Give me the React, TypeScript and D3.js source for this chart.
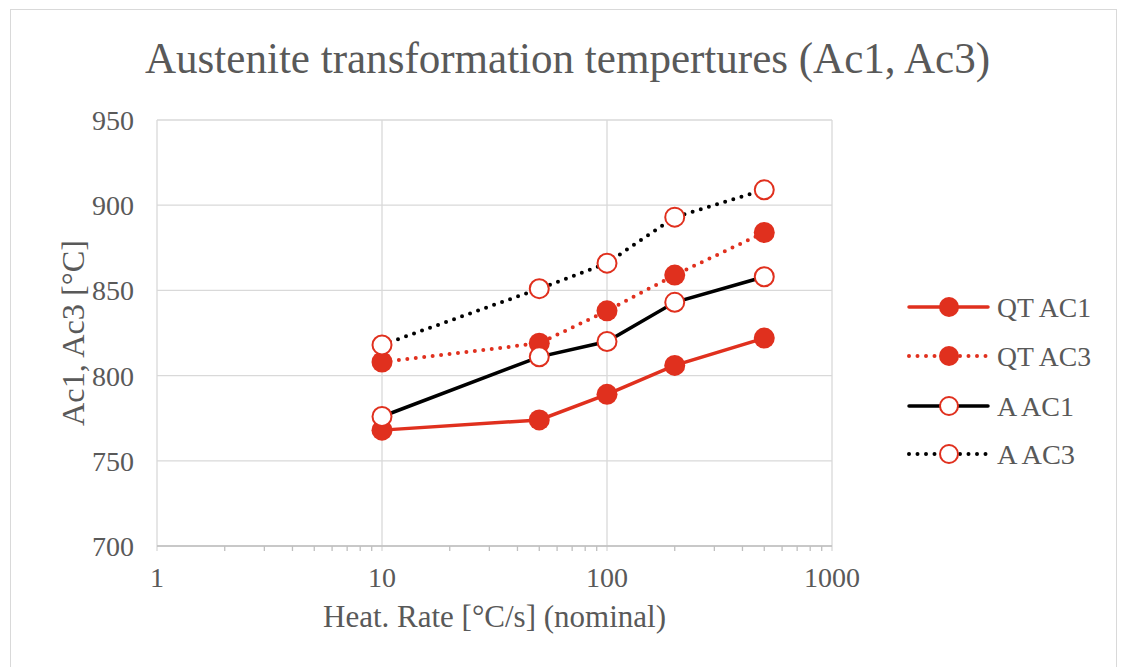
import React from "react";
import * as d3 from "d3";

const heatRates = [10, 50, 100, 200, 500];
const qtAc1 = [768, 774, 789, 806, 822];
const qtAc3 = [808, 819, 838, 859, 884];
const aAc1 = [776, 811, 820, 843, 858];
const aAc3 = [818, 851, 866, 893, 909];
const xTicks = [1, 10, 100, 1000];
const yTicks = [700, 750, 800, 850, 900, 950];
const seriesNames = ["QT AC1", "QT AC3", "A AC1", "A AC3"];

const RED = "#e0301e";
const series = [
  { name: seriesNames[0], values: qtAc1, color: RED, dotted: false, filled: true },
  { name: seriesNames[1], values: qtAc3, color: RED, dotted: true, filled: true },
  { name: seriesNames[2], values: aAc1, color: "#000000", dotted: false, filled: false },
  { name: seriesNames[3], values: aAc3, color: "#000000", dotted: true, filled: false },
];

export default function App() {
  const W = 1122, H = 667;
  const x = d3.scaleLog().domain([1, 1000]).range([157, 832]);
  const y = d3.scaleLinear().domain([700, 950]).range([546, 120]);
  const minor: number[] = [];
  for (const d of [1, 10, 100]) for (let k = 2; k <= 9; k++) minor.push(d * k);
  const line = d3.line<number>().x((_, i) => x(heatRates[i])).y((v) => y(v));
  const fs = { fontFamily: '"Liberation Serif", "DejaVu Serif", serif' };
  const txt = "#595959";
  const legendY = [307, 356, 406, 454];
  const legendLen = [94, 94, 77, 78];
  return (
    <svg width={W} height={H} style={{ position: "absolute", left: 0, top: 0, background: "#fff" }}>
      <rect x={10.5} y={9.5} width={1106} height={680} fill="#fff" stroke="#d9d9d9" strokeWidth={1} />
      <text x={145} y={73} textLength={845} lengthAdjust="spacingAndGlyphs" style={fs} fontSize={44} fill={txt}>
        Austenite transformation tempertures (Ac1, Ac3)
      </text>
      {yTicks.map((t) => (
        <g key={t}>
          <line x1={157} x2={832} y1={y(t)} y2={y(t)} stroke="#d9d9d9" strokeWidth={1.3} />
          <text x={134} y={y(t) + 10} textAnchor="end" style={fs} fontSize={28} fill={txt}>{t}</text>
        </g>
      ))}
      {xTicks.map((t) => (
        <g key={t}>
          <line x1={x(t)} x2={x(t)} y1={120} y2={551} stroke="#d9d9d9" strokeWidth={1.3} />
          <text x={x(t)} y={587} textAnchor="middle" style={fs} fontSize={28} fill={txt}>{t}</text>
        </g>
      ))}
      {minor.map((t) => (
        <line key={t} x1={x(t)} x2={x(t)} y1={546} y2={551} stroke="#bfbfbf" strokeWidth={1.3} />
      ))}
      <line x1={157} x2={832} y1={546} y2={546} stroke="#bfbfbf" strokeWidth={1.5} />
      <text x={323} y={627} textLength={343} lengthAdjust="spacingAndGlyphs" style={fs} fontSize={31} fill={txt}>
        Heat. Rate [°C/s] (nominal)
      </text>
      <text transform="translate(84,333) rotate(-90)" textAnchor="middle" textLength={186} lengthAdjust="spacingAndGlyphs" style={fs} fontSize={31} fill={txt}>
        Ac1, Ac3 [°C]
      </text>
      {series.map((s) => (
        <g key={s.name}>
          <path d={line(s.values) || ""} fill="none" stroke={s.color} strokeWidth={s.dotted ? 4 : 3.5}
            strokeDasharray={s.dotted ? "0 8.5" : undefined} strokeLinecap="round" />
        </g>
      ))}
      {series.map((s) => (
        <g key={s.name + "m"}>
          {s.values.map((v, i) => (
            <circle key={i} cx={x(heatRates[i])} cy={y(v)} r={s.filled ? 10.5 : 9.5}
              fill={s.filled ? RED : "#fff"} stroke={RED} strokeWidth={s.filled ? 0 : 2} />
          ))}
        </g>
      ))}
      {series.map((s, i) => (
        <g key={s.name + "l"}>
          <line x1={909} x2={988} y1={legendY[i]} y2={legendY[i]} stroke={s.color} strokeWidth={s.dotted ? 4 : 3.5}
            strokeDasharray={s.dotted ? "0 8.5" : undefined} strokeLinecap="round" />
          <circle cx={949} cy={legendY[i]} r={s.filled ? 10 : 9} fill={s.filled ? RED : "#fff"} stroke={RED} strokeWidth={s.filled ? 0 : 2} />
          <text x={997} y={legendY[i] + 10} textLength={legendLen[i]} lengthAdjust="spacingAndGlyphs" style={fs} fontSize={27} fill={txt}>{s.name}</text>
        </g>
      ))}
    </svg>
  );
}
